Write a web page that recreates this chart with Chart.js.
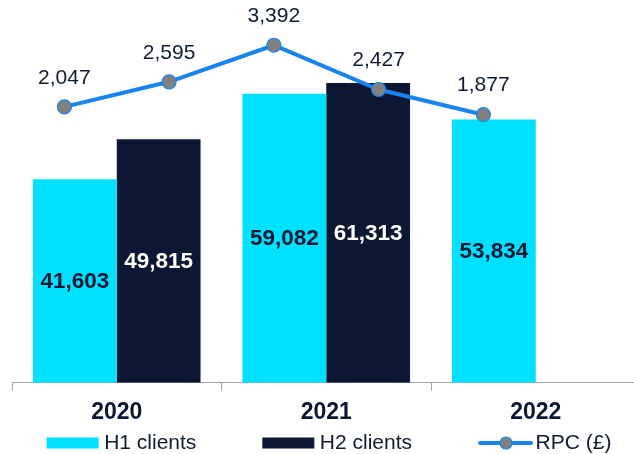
<!DOCTYPE html>
<html>
<head>
<meta charset="utf-8">
<script src="https://cdn.jsdelivr.net/npm/chart.js@4.4.1/dist/chart.umd.min.js"></script>
<style>
  html, body { margin: 0; padding: 0; background: #ffffff; overflow: hidden; width: 634px; height: 454px; }
  #wrap { position: relative; width: 642px; height: 454px; }
  #wrap canvas { position: absolute; left: 0; top: 0; display: block; }
</style>
</head>
<body>
<div id="wrap">
  <canvas id="bars" width="642" height="454"></canvas>
  <canvas id="rpc" width="642" height="454"></canvas>
</div>
<script>
// Years on the bar axis, half-years on the RPC line axis
const years = ['2020', '2021', '2022'];
const halfYears = ['H1 2020', 'H2 2020', 'H1 2021', 'H2 2021', 'H1 2022', 'H2 2022'];

// Client counts per half-year
const h1Clients = [41603, 59082, 53834];
const h2Clients = [49815, 61313, null];

// Revenue per client (£) per half-year
const rpc = [2047, 2595, 3392, 2427, 1877, null];

const CYAN = '#00E1FF';
const NAVY = '#0B1733';
const BLUE = '#1984F0';
const GREY = '#808080';
const TEXT = '#0F1A33';
const FONT = '"Liberation Sans", Arial, sans-serif';

// Both charts share the same plot box so the half-year line sits over the year bars
const PAD = { left: 12, right: 1.5, top: 16 };
const AXIS_H = 71.3;

const fmt = v => v.toLocaleString('en-US');

const h1Set = { label: 'H1 clients', data: h1Clients, backgroundColor: CYAN, labelColor: NAVY, barPercentage: 1, categoryPercentage: 0.8 };
const h2Set = { label: 'H2 clients', data: h2Clients, backgroundColor: NAVY, labelColor: '#FFFFFF', barPercentage: 1, categoryPercentage: 0.8 };
const rpcSet = {
  label: 'RPC (£)', data: rpc,
  borderColor: BLUE, borderWidth: 4,
  pointRadius: 7, pointBackgroundColor: GREY, pointBorderColor: BLUE, pointBorderWidth: 1.2,
  tension: 0, spanGaps: false
};

// Value labels: centred inside bars, above line points
const valueLabels = {
  id: 'valueLabels',
  afterDatasetsDraw(chart) {
    const ctx = chart.ctx;
    ctx.save();
    ctx.textAlign = 'center';
    ctx.textBaseline = 'middle';
    chart.data.datasets.forEach((ds, i) => {
      const meta = chart.getDatasetMeta(i);
      meta.data.forEach((el, j) => {
        const v = ds.data[j];
        if (v === null || v === undefined) return;
        if (meta.type === 'line') {
          ctx.font = '21px ' + FONT;
          ctx.fillStyle = TEXT;
          ctx.fillText(fmt(v), el.x, el.y - 29);
        } else {
          ctx.font = 'bold 22.5px ' + FONT;
          ctx.fillStyle = ds.labelColor;
          ctx.fillText(fmt(v), el.x, (el.y + el.base) / 2 + 1);
        }
      });
    });
    ctx.restore();
  }
};

// Legend row along the bottom edge: H1, H2, RPC
const bottomLegend = {
  id: 'bottomLegend',
  afterDraw(chart) {
    const ctx = chart.ctx;
    ctx.save();
    ctx.font = '21px ' + FONT;
    ctx.textBaseline = 'middle';
    ctx.textAlign = 'left';
    const y = 443;
    const symW = 52, symGap = 5.5, itemGap = 66;
    const sets = [h1Set, h2Set, rpcSet];
    const widths = sets.map(ds => symW + symGap + ctx.measureText(ds.label).width);
    const total = widths.reduce((s, w) => s + w, 0) + itemGap * (sets.length - 1);
    let x = 329 - total / 2;
    sets.forEach((ds, i) => {
      if (ds === rpcSet) {
        ctx.strokeStyle = ds.borderColor;
        ctx.lineWidth = 4;
        ctx.lineCap = 'round';
        ctx.beginPath();
        ctx.moveTo(x + 2, y);
        ctx.lineTo(x + symW + 1, y);
        ctx.stroke();
        ctx.beginPath();
        ctx.arc(x + symW / 2 + 2, y, 6, 0, Math.PI * 2);
        ctx.fillStyle = ds.pointBackgroundColor;
        ctx.fill();
        ctx.lineWidth = 1.2;
        ctx.strokeStyle = ds.pointBorderColor;
        ctx.stroke();
      } else {
        ctx.fillStyle = ds.backgroundColor;
        ctx.fillRect(x, y - 5.5, symW, 11);
      }
      ctx.fillStyle = TEXT;
      ctx.fillText(ds.label, x + symW + symGap, y);
      x += widths[i] + itemGap;
    });
    ctx.restore();
  }
};

// Client bars on the year axis
new Chart(document.getElementById('bars'), {
  type: 'bar',
  data: { labels: years, datasets: [h1Set, h2Set] },
  options: {
    responsive: false,
    animation: false,
    devicePixelRatio: 1,
    layout: { autoPadding: false, padding: { left: PAD.left, right: PAD.right, top: PAD.top, bottom: 0 } },
    plugins: { legend: { display: false }, tooltip: { enabled: false } },
    scales: {
      x: {
        type: 'category',
        offset: true,
        grid: {
          offset: true,
          drawOnChartArea: false,
          drawTicks: true,
          tickLength: 8,
          color: '#A6A6A6',
          lineWidth: 1
        },
        border: { display: true, color: '#A6A6A6', width: 1 },
        ticks: {
          color: NAVY,
          padding: 8,
          font: { family: FONT, size: 23, weight: 'bold' }
        },
        afterFit(scale) { scale.height = AXIS_H; }
      },
      y: { display: false, min: 0, max: 75000 }
    }
  },
  plugins: [valueLabels]
});

// RPC line on the half-year axis, drawn over the bars
new Chart(document.getElementById('rpc'), {
  type: 'line',
  data: { labels: halfYears, datasets: [rpcSet] },
  options: {
    responsive: false,
    animation: false,
    devicePixelRatio: 1,
    layout: { autoPadding: false, padding: { left: PAD.left, right: PAD.right, top: PAD.top, bottom: AXIS_H } },
    plugins: { legend: { display: false }, tooltip: { enabled: false } },
    scales: {
      x: { type: 'category', offset: true, display: false },
      y: { display: false, min: -3970, max: 4030 }
    }
  },
  plugins: [valueLabels, bottomLegend]
});
</script>
</body>
</html>
